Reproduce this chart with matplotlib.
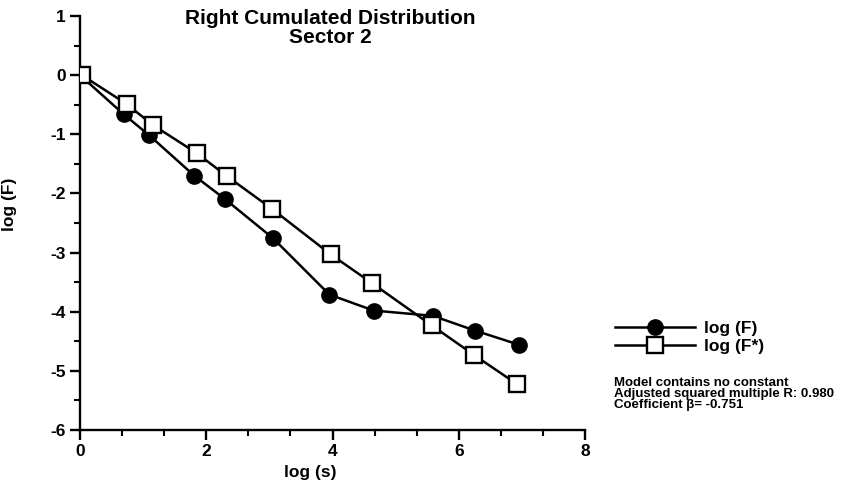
import matplotlib
matplotlib.use("Agg")
import matplotlib.pyplot as plt
from matplotlib.ticker import MultipleLocator, AutoMinorLocator

plt.rcParams['font.family'] = ['Liberation Sans', 'DejaVu Sans']
plt.rcParams['axes.unicode_minus'] = False

# data
log_s_F = [0, 0.69, 1.10, 1.81, 2.29, 3.06, 3.95, 4.65, 5.59, 6.26, 6.96]
log_F = [0, -0.66, -1.02, -1.70, -2.09, -2.76, -3.71, -3.98, -4.07, -4.32, -4.56]
log_s_Fs = [0.03, 0.74, 1.15, 1.85, 2.33, 3.04, 3.97, 4.63, 5.57, 6.24, 6.93]
log_Fs = [0, -0.49, -0.84, -1.32, -1.71, -2.26, -3.03, -3.52, -4.23, -4.73, -5.23]

title = "Right Cumulated Distribution\nSector 2"
note = ("Model contains no constant\n"
        "Adjusted squared multiple R: 0.980\n"
        "Coefficient \u03b2= -0.751")

W, H = 866, 491
fig = plt.figure(figsize=(W / 100, H / 100), dpi=100)
ax = fig.add_axes([80 / W, 1 - 430 / H, (585 - 80) / W, (430 - 16) / H])

ax.plot(log_s_F, log_F, color='black', lw=1.8, marker='o', ms=11,
        mfc='black', mec='black', label='log (F)', zorder=3)
ax.plot(log_s_Fs, log_Fs, color='black', lw=1.8, marker='s', ms=11,
        mfc='white', mec='black', mew=1.7, label='log (F*)', zorder=4)

ax.set_xlim(0, 8)
ax.set_ylim(-6, 1)
ax.xaxis.set_major_locator(MultipleLocator(2))
ax.xaxis.set_minor_locator(AutoMinorLocator(3))
ax.yaxis.set_major_locator(MultipleLocator(1))
ax.yaxis.set_minor_locator(AutoMinorLocator(2))

for s in ['top', 'right']:
    ax.spines[s].set_visible(False)
for s in ['left', 'bottom']:
    ax.spines[s].set_linewidth(1.7)
ax.tick_params(which='major', direction='out', length=7, width=1.7,
               labelsize=12.5, pad=3)
ax.tick_params(which='minor', direction='out', length=4, width=1.5)
for lab in ax.get_xticklabels() + ax.get_yticklabels():
    lab.set_fontweight('bold')

ax.set_xlabel("log (s)", fontsize=12.5, fontweight='bold')
ax.xaxis.set_label_coords(0.455, -0.085)
ax.set_ylabel("log (F)", fontsize=12.5, fontweight='bold')
ax.yaxis.set_label_coords(-0.125, 0.545)

fig.text(330 / W, 1 - 9 / H, title, ha='center', va='top', fontsize=15,
         fontweight='bold', linespacing=1.0)

ax.legend(loc='upper left', bbox_to_anchor=(606 / W, 1 - 312 / H),
          bbox_transform=fig.transFigure, frameon=False,
          handlelength=4.6, handletextpad=0.55, labelspacing=0.2,
          borderpad=0, prop={'weight': 'bold', 'size': 12.5})

fig.text(614 / W, 1 - 377 / H, note, ha='left', va='top', fontsize=9.5,
         fontweight='bold', linespacing=0.9)

fig.savefig("out.png", dpi=100)
